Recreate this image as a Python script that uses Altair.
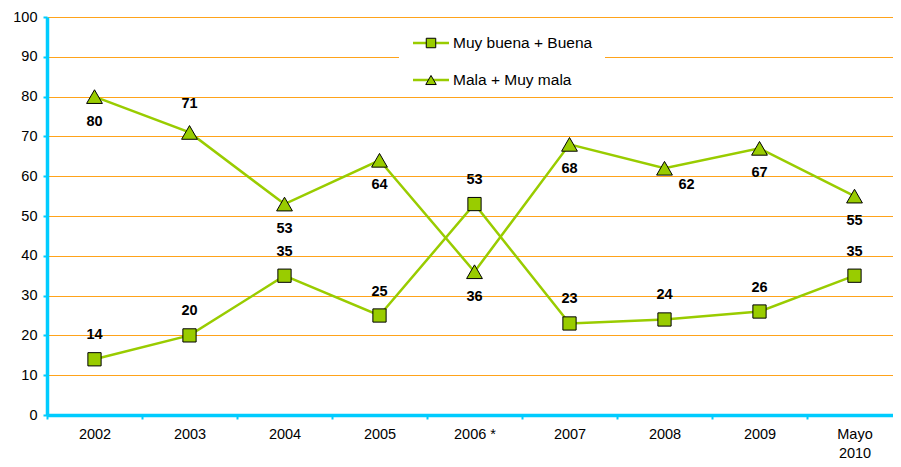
import altair as alt
import pandas as pd

# ---- data ----
categories = ["2002", "2003", "2004", "2005", "2006 *", "2007", "2008", "2009", "Mayo 2010"]
series_names = ["Muy buena + Buena", "Mala + Muy mala"]
buena = [14, 20, 35, 25, 53, 23, 24, 26, 35]
mala = [80, 71, 53, 64, 36, 68, 62, 67, 55]
# label placement relative to each point
buena_label_pos = ["above"] * 9
mala_label_pos = ["below", "above", "below", "below", "below", "below", "right", "below", "below"]

rows = []
for c, v, p in zip(categories, buena, buena_label_pos):
    rows.append({"cat": c, "value": v, "series": series_names[0], "pos": p})
for c, v, p in zip(categories, mala, mala_label_pos):
    rows.append({"cat": c, "value": v, "series": series_names[1], "pos": p})
df = pd.DataFrame(rows)

GREEN = "#99CC00"
CYAN = "#00CCFF"
ORANGE = "#FFA31A"
FONT = "Liberation Sans"

x_enc = alt.X(
    "cat:N",
    sort=categories,
    scale=alt.Scale(type="band", paddingInner=0, paddingOuter=0, range=[0, 855]),
    axis=alt.Axis(
        title=None,
        labelAngle=0,
        tickBand="extent",
        grid=False,
        labelExpr="datum.value == 'Mayo 2010' ? ['Mayo', '2010'] : datum.label",
        labelPadding=8,
        labelLineHeight=19,
    ),
)
y_enc = alt.Y(
    "value:Q",
    scale=alt.Scale(domain=[0, 100], nice=False, zero=True),
    axis=alt.Axis(
        title=None,
        values=list(range(0, 101, 10)),
        grid=True,
        gridColor=ORANGE,
        gridWidth=1,
        labelPadding=6,
    ),
)

base = alt.Chart(df)

line = base.mark_line(color=GREEN, strokeWidth=2.5).encode(x=x_enc, y=y_enc, detail="series:N")

points = base.mark_point(
    filled=True, fill=GREEN, stroke="black", strokeWidth=1, opacity=1
).encode(
    x=x_enc,
    y=y_enc,
    shape=alt.Shape(
        "series:N",
        scale=alt.Scale(domain=series_names, range=["square", "triangle-up"]),
        legend=None,
    ),
    size=alt.Size(
        "series:N",
        scale=alt.Scale(domain=series_names, range=[175, 250]),
        legend=None,
    ),
)

def labels(series, pos, dx, dy):
    return base.transform_filter(
        (alt.datum.series == series) & (alt.datum.pos == pos)
    ).mark_text(
        font=FONT, fontSize=14.5, fontWeight="bold", color="black",
        baseline="middle", align="center", dx=dx, dy=dy,
    ).encode(x=x_enc, y=y_enc, text="value:Q")

lab_b_above = labels(series_names[0], "above", 0, -24)
lab_m_above = labels(series_names[1], "above", 0, -28)
lab_m_below = labels(series_names[1], "below", 0, 25)
lab_m_right = labels(series_names[1], "right", 22, 17)

# ---- manual legend (white box over the grid) ----
one = alt.Data(values=[{"a": 1}])
legend_bg = alt.Chart(one).mark_rect(color="white").encode(
    x=alt.value(352), x2=alt.value(558), y=alt.value(1), y2=alt.value(79.5)
)
leg_layers = [legend_bg]
for i, (name, shp, sz) in enumerate(zip(series_names, ["square", "triangle-up"], [90, 110])):
    ypix = 26 + i * 37
    leg_layers.append(
        alt.Chart(one).mark_rule(color=GREEN, strokeWidth=2.5).encode(
            x=alt.value(366), x2=alt.value(402), y=alt.value(ypix)
        )
    )
    leg_layers.append(
        alt.Chart(one).mark_point(
            filled=True, fill=GREEN, stroke="black", strokeWidth=1, opacity=1,
            shape=shp, size=sz,
        ).encode(x=alt.value(384), y=alt.value(ypix))
    )
    leg_layers.append(
        alt.Chart(alt.Data(values=[{"t": name}])).mark_text(
            font=FONT, fontSize=15.5, color="black", align="left", baseline="middle"
        ).encode(x=alt.value(406), y=alt.value(ypix), text="t:N")
    )

chart = alt.layer(
    line, *leg_layers, points, lab_b_above, lab_m_above, lab_m_below, lab_m_right
).properties(
    width=846,
    height=398,
    autosize=alt.AutoSizeParams(type="none"),
    padding={"left": 39, "top": 9, "right": 0, "bottom": 44},
).configure_view(
    stroke=None
).configure_axis(
    domainColor=CYAN,
    domainWidth=3.5,
    tickColor=CYAN,
    tickWidth=2,
    tickSize=4,
    labelFont=FONT,
    labelFontSize=14.5,
    labelColor="black",
)

chart.save("out.html", embed_options={"renderer": "svg", "actions": False})
